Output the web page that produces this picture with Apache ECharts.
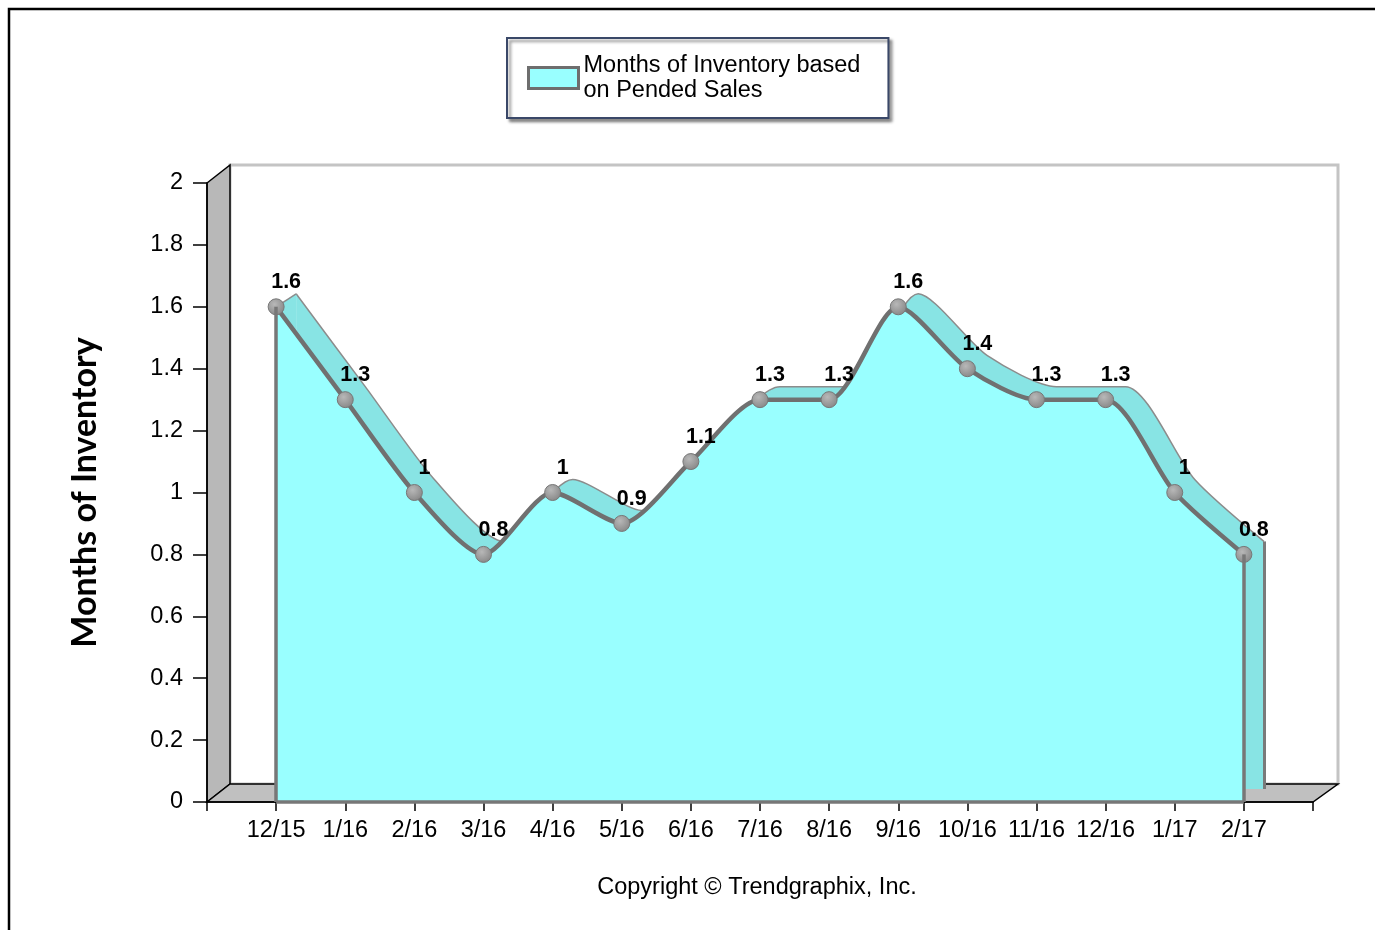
<!DOCTYPE html>
<html>
<head>
<meta charset="utf-8">
<script src="https://cdn.jsdelivr.net/npm/echarts@6/dist/echarts.min.js"></script>
<style>
  html, body { margin: 0; padding: 0; background: #fff; }
  #chart { width: 1375px; height: 930px; }
</style>
</head>
<body>
<div id="chart"></div>
<script>
const categories = ['12/15', '1/16', '2/16', '3/16', '4/16', '5/16', '6/16', '7/16',
  '8/16', '9/16', '10/16', '11/16', '12/16', '1/17', '2/17']
const inventory = [1.6, 1.3, 1, 0.8, 1, 0.9, 1.1, 1.3, 1.3, 1.6, 1.4, 1.3, 1.3, 1, 0.8]
const seriesName = 'Months of Inventory based on Pended Sales'

// empty slot at each end so the axis runs one category past the data
const axisCats = [''].concat(categories, [''])
const axisVals = [null].concat(inventory, [null])
const first = categories[0]
const last = categories[categories.length - 1]

const font = 'Liberation Sans, Arial, sans-serif'
// 3D depth of the box and of the area
const depthX = 23, depthY = 18
const areaDX = 20, areaDY = 13

const gLeft = 207, gTop = 183, gWidth = 1106, gHeight = 619
const bandColor = '#88e4e4'

const myChart = echarts.init(document.getElementById('chart'))
myChart.setOption({
  animation: false,
  textStyle: { fontFamily: font },
  legend: {
    left: 507,
    top: 38,
    padding: [15, 28, 15, 20],
    backgroundColor: '#fff',
    borderColor: '#3a4868',
    borderWidth: 2,
    shadowColor: 'rgba(0,0,0,0.45)',
    shadowBlur: 3,
    shadowOffsetX: 3,
    shadowOffsetY: 3,
    itemWidth: 50,
    itemHeight: 21,
    data: [{
      name: seriesName,
      icon: 'rect',
      itemStyle: { color: '#99ffff', borderColor: '#6e6e6e', borderWidth: 3 }
    }],
    formatter: function () { return 'Months of Inventory based\non Pended Sales' },
    textStyle: { fontSize: 23.5, lineHeight: 25, color: '#000', fontFamily: font }
  },
  grid: [
    { left: gLeft + areaDX, top: gTop - areaDY, width: gWidth, height: gHeight },
    { left: gLeft, top: gTop, width: gWidth, height: gHeight }
  ],
  xAxis: [
    { gridIndex: 0, type: 'category', data: axisCats, boundaryGap: false, show: false },
    {
      gridIndex: 1, type: 'category', data: axisCats, boundaryGap: false,
      axisLine: { lineStyle: { color: '#000', width: 1.5 } },
      axisTick: { length: 9, lineStyle: { color: '#000', width: 1.5 } },
      axisLabel: { color: '#000', fontSize: 23.5, margin: 17, interval: 0 },
      splitLine: { show: false }
    }
  ],
  yAxis: [
    { gridIndex: 0, type: 'value', min: 0, max: 2, interval: 0.2, show: false },
    {
      gridIndex: 1, type: 'value', min: 0, max: 2, interval: 0.2,
      name: 'Months of Inventory',
      nameLocation: 'middle',
      nameRotate: 90,
      nameGap: 105,
      nameTextStyle: { fontFamily: 'Lato', fontWeight: 'bold', fontSize: 34, color: '#000' },
      axisLine: { show: true, lineStyle: { color: '#000', width: 1.5 } },
      axisTick: { show: true, length: 14, lineStyle: { color: '#000', width: 1.5 } },
      axisLabel: { color: '#000', fontSize: 23.5, margin: 24 },
      splitLine: { show: false }
    }
  ],
  graphic: [
    {
      id: 'frame', type: 'rect', z: -5, silent: true,
      shape: { x: 9, y: 9, width: 1400, height: 1000 },
      style: { fill: '#fff', stroke: '#000', lineWidth: 2.5 }
    },
    {
      id: 'backWall', type: 'rect', z: -4, silent: true,
      shape: { x: gLeft + depthX, y: gTop - depthY, width: gWidth + 2, height: gHeight },
      style: { fill: '#fff', stroke: '#c4c4c4', lineWidth: 3 }
    },
    {
      id: 'sideWall', type: 'polygon', z: -3, silent: true,
      shape: { points: [[gLeft, gTop], [gLeft + depthX, gTop - depthY], [gLeft + depthX, gTop + gHeight - depthY], [gLeft, gTop + gHeight]] },
      style: { fill: '#b8b8b8', stroke: '#000', lineWidth: 1.5 }
    },
    {
      id: 'floor', type: 'polygon', z: -3, silent: true,
      shape: { points: [[gLeft, gTop + gHeight], [gLeft + depthX, gTop + gHeight - depthY], [gLeft + gWidth + depthX + 2, gTop + gHeight - depthY], [gLeft + gWidth, gTop + gHeight]] },
      style: { fill: '#c0c0c0', stroke: '#000', lineWidth: 1.5 }
    },
    {
      id: 'copyright', type: 'text', z: 5, silent: true,
      x: 757, y: 888,
      style: {
        text: 'Copyright \u00a9 Trendgraphix, Inc.',
        fontSize: 23.5, fontFamily: font, fill: '#000',
        align: 'center', verticalAlign: 'middle'
      }
    }
  ],
  series: [
    {
      name: 'depth',
      type: 'line',
      xAxisIndex: 0, yAxisIndex: 0,
      z: 1,
      data: axisVals,
      smooth: 0.25,
      symbol: 'none',
      lineStyle: { color: '#8c8c8c', width: 1.5 },
      areaStyle: { color: bandColor, opacity: 1 },
      markLine: {
        silent: true, symbol: 'none', label: { show: false },
        lineStyle: { color: '#7a7a7a', width: 3, type: 'solid' },
        data: [[{ coord: [last, 0] }, { coord: [last, inventory[inventory.length - 1]] }]]
      }
    },
    {
      name: seriesName,
      type: 'line',
      xAxisIndex: 1, yAxisIndex: 1,
      z: 3,
      data: axisVals,
      smooth: 0.25,
      symbol: 'circle',
      symbolSize: 16,
      itemStyle: {
        color: {
          type: 'radial', x: 0.4, y: 0.35, r: 0.7,
          colorStops: [{ offset: 0, color: '#b8b8b8' }, { offset: 1, color: '#858585' }]
        },
        borderColor: '#777',
        borderWidth: 1
      },
      lineStyle: { color: '#707070', width: 4.5 },
      areaStyle: { color: '#99ffff', opacity: 1 },
      label: {
        show: true, position: 'top', distance: 5, offset: [10, 0],
        fontSize: 21.5, fontWeight: 'bold', color: '#000', fontFamily: font
      },
      markLine: {
        silent: true, symbol: 'none', label: { show: false },
        lineStyle: { color: '#777', width: 3.5, type: 'solid' },
        data: [
          [{ coord: [first, 0] }, { coord: [first, inventory[0]] }],
          [{ coord: [last, 0] }, { coord: [last, inventory[inventory.length - 1]] }],
          [{ coord: [first, 0] }, { coord: [last, 0] }]
        ]
      }
    }
  ]
})

// close the depth band at the first point (front point -> back point)
const i0 = axisCats.indexOf(first)
const pf = myChart.convertToPixel({ seriesIndex: 1 }, [i0, inventory[0]])
const pf2 = myChart.convertToPixel({ seriesIndex: 1 }, [i0 + 1, inventory[1]])
const pb = myChart.convertToPixel({ seriesIndex: 0 }, [i0, inventory[0]])
const yCut = pf[1] + (pf2[1] - pf[1]) * (pb[0] - pf[0]) / (pf2[0] - pf[0])
myChart.setOption({
  graphic: [
    {
      id: 'bandCap', type: 'polygon', z: 2, silent: true,
      shape: { points: [pf, pb, [pb[0], yCut + 2], [pf[0], pf[1] + 2]] },
      style: { fill: bandColor, stroke: null }
    },
    {
      id: 'bandCapEdge', type: 'line', z: 2, silent: true,
      shape: { x1: pf[0], y1: pf[1], x2: pb[0], y2: pb[1] },
      style: { stroke: '#8c8c8c', lineWidth: 1.5 }
    }
  ]
})
</script>
</body>
</html>
